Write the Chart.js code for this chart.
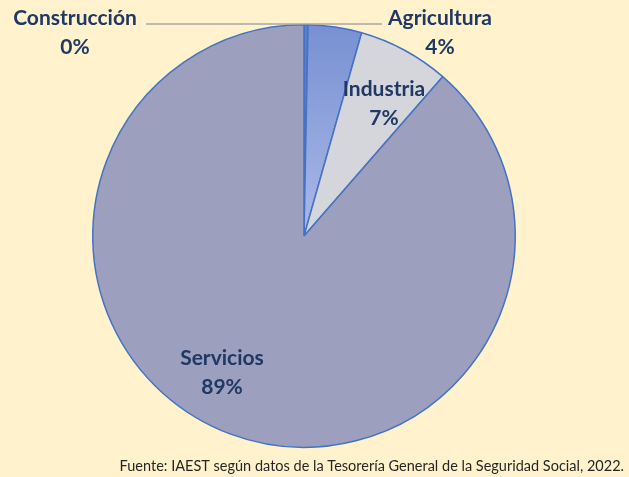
<!DOCTYPE html>
<html>
<head>
<meta charset="utf-8">
<script src="https://cdn.jsdelivr.net/npm/chart.js@4.4.0/dist/chart.umd.min.js"></script>
<style>
    html, body { margin: 0; padding: 0; background: #fff2cc; }
    #wrap { width: 629px; height: 477px; position: relative; }
</style>
</head>
<body>
<div id="wrap"><canvas id="sectorChart"></canvas></div>
<script>
const sectores = ['Construcción', 'Agricultura', 'Industria', 'Servicios'];
const porcentajes = [0.3, 4.1, 7.0, 88.6];
const etiquetasPct = ['0%', '4%', '7%', '89%'];
const fuente = 'Fuente: IAEST según datos de la Tesorería General de la Seguridad Social, 2022.';

const colores = ['#5b7fcf', null, '#d5d5dc', '#9c9fbe'];
const textColor = '#1f3864';
const labelFont = 'bold 21px Lato';

// label placement, same spots as the original Excel chart
const labelPos = [
    { x: 75, y: 18 },
    { x: 440, y: 18 },
    { x: 384, y: 89 },
    { x: 222, y: 358 }
];

const labelsPlugin = {
    id: 'sectorLabels',
    afterDatasetsDraw(chart) {
        const ctx = chart.ctx;
        ctx.save();
        // leader line
        ctx.strokeStyle = '#a6a6a6';
        ctx.lineWidth = 1.5;
        ctx.beginPath();
        ctx.moveTo(146, 24);
        ctx.lineTo(382, 24);
        ctx.stroke();

        ctx.fillStyle = textColor;
        ctx.font = labelFont;
        ctx.textAlign = 'center';
        ctx.textBaseline = 'middle';
        sectores.forEach(function(name, i) {
            const p = labelPos[i];
            ctx.fillText(name, p.x, p.y);
            ctx.fillText(etiquetasPct[i], p.x, p.y + 29);
        });

        ctx.fillStyle = '#262626';
        ctx.font = '14.5px Lato';
        ctx.textAlign = 'right';
        ctx.textBaseline = 'alphabetic';
        ctx.fillText(fuente, 624, 471);
        ctx.restore();
    }
};

function sliceFill(context) {
    const i = context.dataIndex;
    if (colores[i]) return colores[i];
    const chart = context.chart;
    const area = chart.chartArea;
    if (!area) return '#8399d8';
    const g = chart.ctx.createLinearGradient(0, area.top, 0, (area.top + area.bottom) / 2);
    g.addColorStop(0, '#7890d2');
    g.addColorStop(1, '#aab9e8');
    return g;
}

const ctx = document.getElementById('sectorChart').getContext('2d');
new Chart(ctx, {
    type: 'pie',
    data: {
        labels: sectores,
        datasets: [{
            data: porcentajes,
            backgroundColor: sliceFill,
            borderColor: '#4472c4',
            borderWidth: 1.5
        }]
    },
    options: {
        responsive: true,
        maintainAspectRatio: false,
        animation: false,
        layout: {
            padding: { top: 24, bottom: 29, left: 92, right: 113 }
        },
        plugins: {
            legend: { display: false },
            tooltip: { enabled: false }
        }
    },
    plugins: [labelsPlugin]
});
</script>
</body>
</html>
